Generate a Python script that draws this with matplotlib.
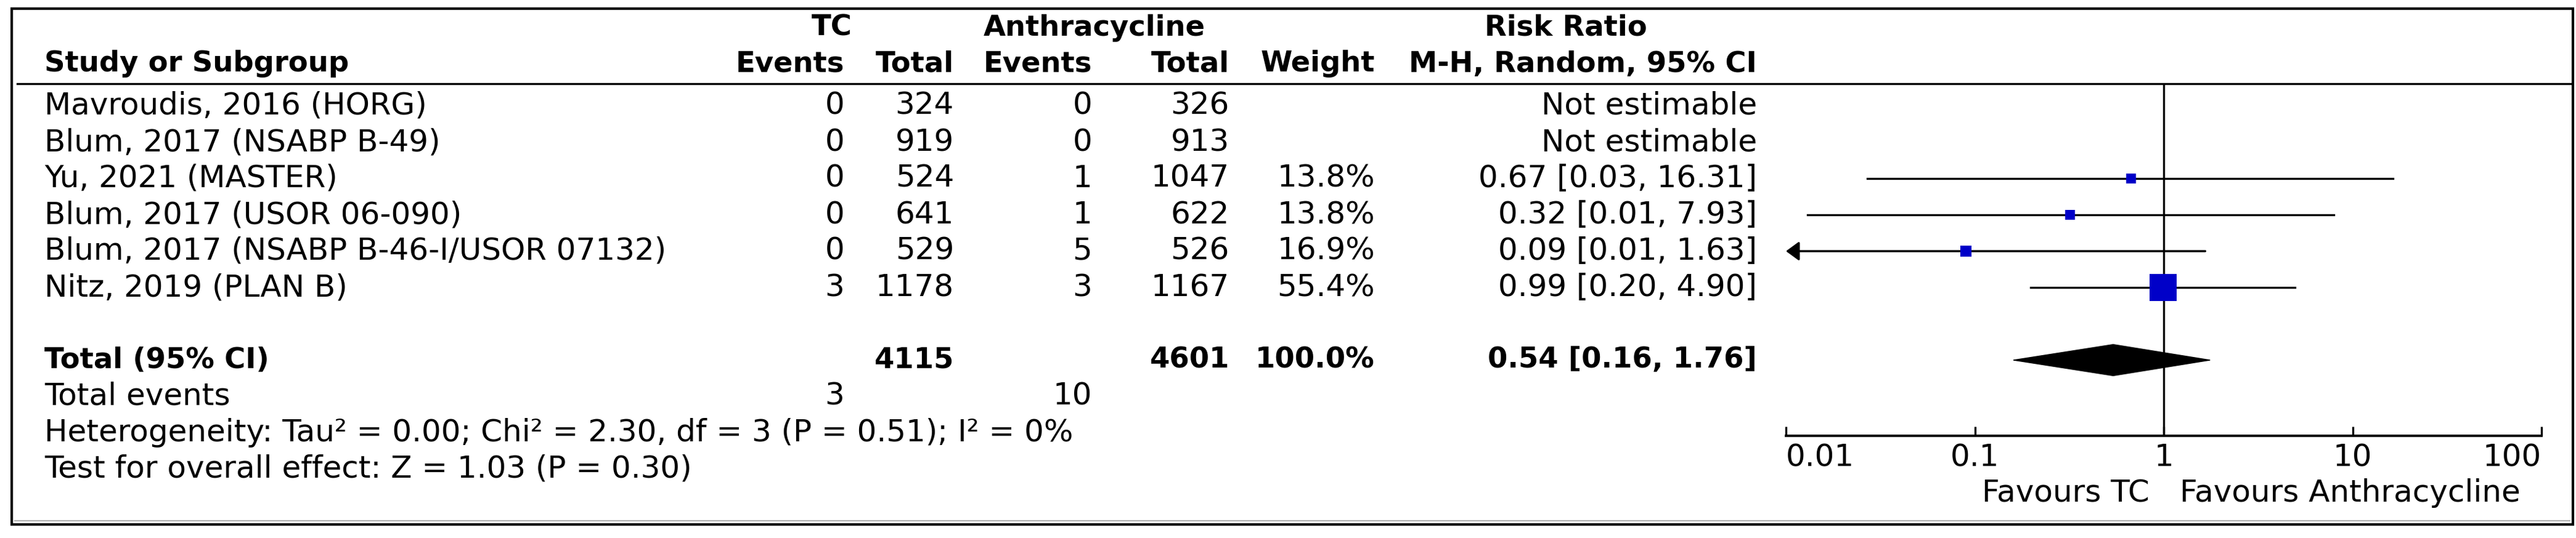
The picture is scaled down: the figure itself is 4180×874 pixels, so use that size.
import numpy as np
import matplotlib
matplotlib.use("Agg")
import matplotlib.pyplot as plt
from matplotlib.patches import Rectangle, Polygon

plt.rcParams.update({"font.family": "DejaVu Sans"})

# ---------- data ----------
studies = ["Mavroudis, 2016 (HORG)", "Blum, 2017 (NSABP B-49)", "Yu, 2021 (MASTER)",
           "Blum, 2017 (USOR 06-090)", "Blum, 2017 (NSABP B-46-I/USOR 07132)",
           "Nitz, 2019 (PLAN B)"]
tc_events = [0, 0, 0, 0, 0, 3]
tc_total = [324, 919, 524, 641, 529, 1178]
an_events = [0, 0, 1, 1, 5, 3]
an_total = [326, 913, 1047, 622, 526, 1167]
weights = [None, None, 13.8, 13.8, 16.9, 55.4]
rr_text = ["Not estimable", "Not estimable", "0.67 [0.03, 16.31]", "0.32 [0.01, 7.93]",
           "0.09 [0.01, 1.63]", "0.99 [0.20, 4.90]"]
# plotted point estimates / CI ends (unrounded, as seen on the graph)
rr = [None, None, 0.67, 0.32, 0.09, 0.99]
ci_lo = [None, None, 0.027, 0.013, 0.005, 0.197]
ci_hi = [None, None, 16.4, 7.94, 1.66, 4.95]

total_tc, total_an = 4115, 4601
pooled_rr, pooled_lo, pooled_hi = 0.54, 0.16, 1.76
pooled_text = "0.54 [0.16, 1.76]"
events_tc, events_an = 3, 10
het_text = "Heterogeneity: Tau² = 0.00; Chi² = 2.30, df = 3 (P = 0.51); I² = 0%"
test_text = "Test for overall effect: Z = 1.03 (P = 0.30)"
xticks = [0.01, 0.1, 1, 10, 100]
xtick_labels = ["0.01", "0.1", "1", "10", "100"]

# ---------- layout (pixels) ----------
W, H = 4180, 874
ROW0, ROWH = 172, 59
FS, FSB = 36, 33.5
X_STUDY = 72
X_TCE, X_TCT, X_ANE, X_ANT, X_WT, X_RR = 1370, 1548, 1772, 1995, 2231, 2851
PX_L, PX_R, PY_T, PY_B = 2898, 4124, 136, 708


def row_y(i):
    return ROW0 + i * ROWH


fig = plt.figure(figsize=(W / 100, H / 100), dpi=100)
ax = fig.add_axes([0, 0, 1, 1])
ax.set_xlim(0, W)
ax.set_ylim(H, 0)
ax.axis("off")

# frame and header rule
ax.add_patch(Rectangle((19, 14), 4156, 838, fill=False, lw=3, ec="black"))
ax.plot([24, 4170], [846, 846], color="#b0b0b0", lw=1.5)
ax.plot([28, 4172], [PY_T, PY_T], color="black", lw=2.4)

# headers
hb = dict(fontsize=FSB, fontweight="bold", va="center")
ax.text(1350, 45, "TC", ha="center", **hb)
ax.text(1776, 45, "Anthracycline", ha="center", **hb)
ax.text(2541, 45, "Risk Ratio", ha="center", **hb)
ax.text(X_STUDY, 104, "Study or Subgroup", ha="left", **hb)
for x, lab in [(X_TCE, "Events"), (X_TCT, "Total"), (X_ANE, "Events"),
               (X_ANT, "Total"), (X_WT, "Weight"), (X_RR, "M-H, Random, 95% CI")]:
    ax.text(x, 104, lab, ha="right", **hb)

# study rows
tr = dict(fontsize=FS, va="center")
for i, name in enumerate(studies):
    y = row_y(i)
    ax.text(X_STUDY, y, name, ha="left", **tr)
    ax.text(X_TCE, y, str(tc_events[i]), ha="right", **tr)
    ax.text(X_TCT, y, str(tc_total[i]), ha="right", **tr)
    ax.text(X_ANE, y, str(an_events[i]), ha="right", **tr)
    ax.text(X_ANT, y, str(an_total[i]), ha="right", **tr)
    if weights[i] is not None:
        ax.text(X_WT, y, f"{weights[i]:.1f}%", ha="right", **tr)
    ax.text(X_RR, y, rr_text[i], ha="right", **tr)

# total rows
yt = row_y(7)
tb = dict(fontsize=FSB, fontweight="bold", va="center")
ax.text(X_STUDY, yt, "Total (95% CI)", ha="left", **tb)
ax.text(X_TCT, yt, str(total_tc), ha="right", **tb)
ax.text(X_ANT, yt, str(total_an), ha="right", **tb)
ax.text(X_WT, yt, "100.0%", ha="right", **tb)
ax.text(X_RR, yt, pooled_text, ha="right", **tb)

ax.text(X_STUDY, row_y(8), "Total events", ha="left", **tr)
ax.text(X_TCE, row_y(8), str(events_tc), ha="right", **tr)
ax.text(X_ANE, row_y(8), str(events_an), ha="right", **tr)
ax.text(X_STUDY, row_y(9), het_text, ha="left", **tr)
ax.text(X_STUDY, row_y(10), test_text, ha="left", **tr)

# ---------- forest panel ----------
fx = fig.add_axes([PX_L / W, 1 - PY_B / H, (PX_R - PX_L) / W, (PY_B - PY_T) / H])
fx.set_xscale("log")
fx.set_xlim(xticks[0], xticks[-1])
fx.set_ylim((PY_B - ROW0) / ROWH, (PY_T - ROW0) / ROWH)
fx.patch.set_alpha(0)
for s in ["top", "left", "right"]:
    fx.spines[s].set_visible(False)
fx.spines["bottom"].set_linewidth(2.8)
fx.set_yticks([])
fx.set_xticks(xticks)
fx.set_xticklabels(xtick_labels)
fx.minorticks_off()
fx.tick_params(axis="x", direction="in", length=11, width=2.4, labelsize=FS, pad=8)
tl = fx.get_xticklabels()
tl[0].set_ha("left")
tl[-1].set_ha("right")

fx.axvline(1, color="black", lw=2.4, zorder=1)

for i in range(len(studies)):
    if rr[i] is None:
        continue
    lo = max(ci_lo[i], xticks[0])
    if ci_lo[i] < xticks[0]:
        fx.annotate("", xy=(lo, i), xytext=(ci_hi[i], i),
                    arrowprops=dict(arrowstyle="-|>,head_length=1.3,head_width=0.95",
                                    lw=2.4, color="black", shrinkA=0, shrinkB=0,
                                    mutation_scale=10), zorder=2)
    else:
        fx.plot([lo, ci_hi[i]], [i, i], color="black", lw=2.4, zorder=2)
    side_pt = 2.1 * weights[i] ** 0.76 * 0.72
    fx.plot(rr[i], i, marker="s", ms=side_pt, color="#0000c8", mec="#0000c8",
            mew=0, zorder=3)

dh = 0.43
fx.add_patch(Polygon([(pooled_lo, 7), (pooled_rr, 7 - dh), (pooled_hi, 7), (pooled_rr, 7 + dh)],
                     closed=True, fc="black", ec="black", lw=1, zorder=3))

ax.text(3488, 801, "Favours TC", ha="right", **tr)
ax.text(3537, 801, "Favours Anthracycline", ha="left", **tr)

fig.savefig("out.png", dpi=100)
